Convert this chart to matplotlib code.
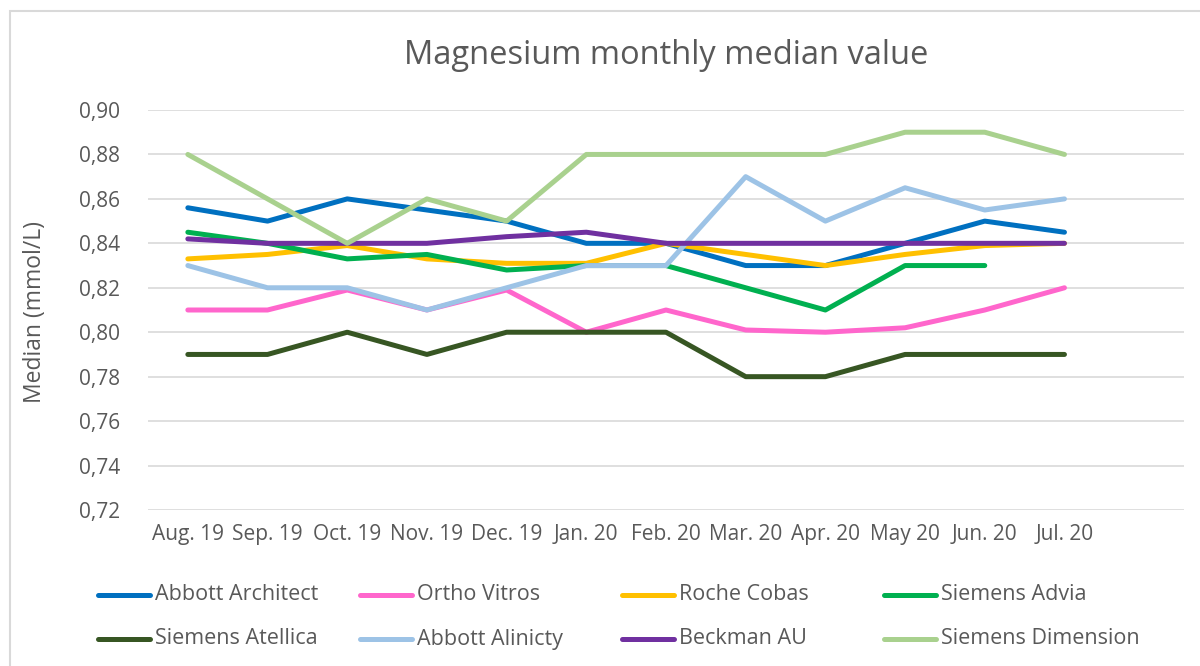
import matplotlib.pyplot as plt
from matplotlib.lines import Line2D
from matplotlib.patches import Rectangle
import numpy as np

plt.rcParams['font.family'] = ['Open Sans', 'DejaVu Sans']

months = ["Aug. 19", "Sep. 19", "Oct. 19", "Nov. 19", "Dec. 19", "Jan. 20",
          "Feb. 20", "Mar. 20", "Apr. 20", "May 20", "Jun. 20", "Jul. 20"]

abbott_architect = [0.856, 0.850, 0.860, 0.855, 0.850, 0.840, 0.840, 0.830, 0.830, 0.840, 0.850, 0.845]
ortho_vitros = [0.810, 0.810, 0.819, 0.810, 0.819, 0.800, 0.810, 0.801, 0.800, 0.802, 0.810, 0.820]
roche_cobas = [0.833, 0.835, 0.839, 0.833, 0.831, 0.831, 0.840, 0.835, 0.830, 0.835, 0.839, 0.840]
siemens_advia = [0.845, 0.840, 0.833, 0.835, 0.828, 0.830, 0.830, 0.820, 0.810, 0.830, 0.830, np.nan]
siemens_atellica = [0.790, 0.790, 0.800, 0.790, 0.800, 0.800, 0.800, 0.780, 0.780, 0.790, 0.790, 0.790]
abbott_alinicty = [0.830, 0.820, 0.820, 0.810, 0.820, 0.830, 0.830, 0.870, 0.850, 0.865, 0.855, 0.860]
beckman_au = [0.842, 0.840, 0.840, 0.840, 0.843, 0.845, 0.840, 0.840, 0.840, 0.840, 0.840, 0.840]
siemens_dimension = [0.880, 0.860, 0.840, 0.860, 0.850, 0.880, 0.880, 0.880, 0.880, 0.890, 0.890, 0.880]

series = [
    ("Abbott Architect", abbott_architect, "#0070C0"),
    ("Ortho Vitros", ortho_vitros, "#FF66CC"),
    ("Roche Cobas", roche_cobas, "#FFC000"),
    ("Siemens Advia", siemens_advia, "#00B050"),
    ("Siemens Atellica", siemens_atellica, "#375623"),
    ("Abbott Alinicty", abbott_alinicty, "#9DC3E6"),
    ("Beckman AU", beckman_au, "#7030A0"),
    ("Siemens Dimension", siemens_dimension, "#A9D18E"),
]

text_color = "#595959"
grid_color = "#D9D9D9"

fig = plt.figure(figsize=(12, 6.66), dpi=100)
ax = fig.add_axes([148 / 1200, 1 - 510 / 666, (1184 - 148) / 1200, 400 / 666])

x = np.arange(len(months))
for name, vals, col in series:
    ax.plot(x, vals, color=col, lw=3.6, solid_capstyle='round', solid_joinstyle='round')

# 13 category slots, last one empty (as in the Excel original)
ax.set_xlim(-0.5, 12.5)
ax.set_ylim(0.72, 0.90)
yt = np.arange(0.72, 0.9001, 0.02)
ax.set_yticks(yt)
ax.set_yticklabels([f"{v:.2f}".replace(".", ",") for v in yt])
ax.set_xticks(x)
ax.set_xticklabels(months)
ax.tick_params(axis='both', length=0, labelsize=15, labelcolor=text_color)
ax.tick_params(axis='y', pad=20)
ax.tick_params(axis='x', pad=10)
ax.grid(axis='y', color=grid_color, lw=1.2)
ax.set_axisbelow(True)
for s in ax.spines.values():
    s.set_visible(False)

ax.set_title("Magnesium monthly median value", fontsize=23.5, color=text_color, pad=33)
fig.text(35 / 1200, 1 - 312 / 666, "Median (mmol/L)", rotation=90, ha='center', va='center',
         fontsize=16.5, color=text_color)

# legend, Excel style fixed columns
for i, (name, vals, col) in enumerate(series):
    r, c = divmod(i, 4)
    x0 = (98 + c * 262) / 1200
    y0 = 1 - (595 + r * 44) / 666
    fig.add_artist(Line2D([x0, x0 + 52 / 1200], [y0, y0], color=col, lw=3.6,
                          solid_capstyle='round', transform=fig.transFigure))
    fig.text(x0 + 57 / 1200, y0, name, ha='left', va='center', fontsize=15.5, color=text_color)

# chart border
fig.add_artist(Rectangle((10 / 1200, -0.05), 1.1, 1 - 11 / 666 + 0.05, transform=fig.transFigure,
                         fill=False, edgecolor=grid_color, lw=1.5))

fig.savefig("out.png", dpi=100)
